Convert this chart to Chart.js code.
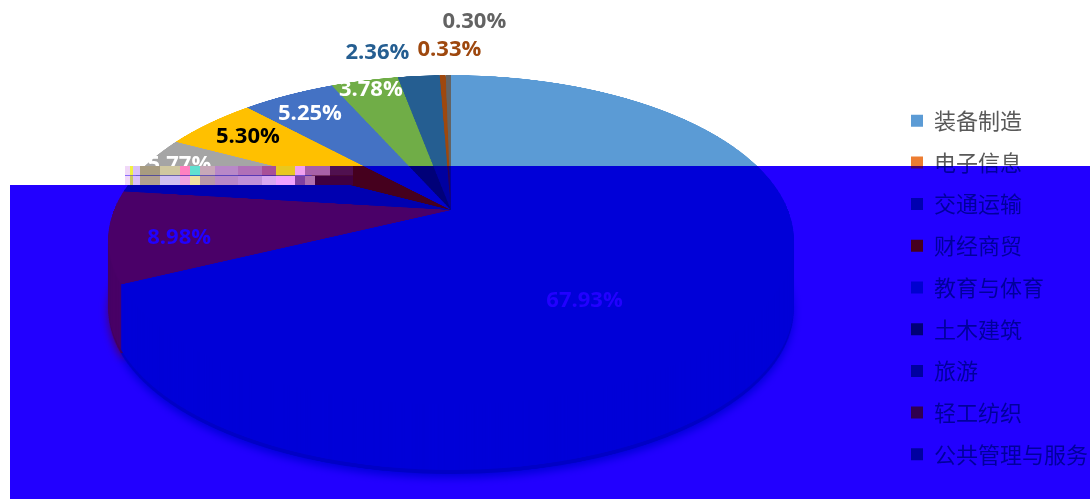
<!DOCTYPE html>
<html>
<head>
<meta charset="utf-8">
<title>专业分布</title>
<script src="https://cdn.jsdelivr.net/npm/chart.js@4"></script>
<style>
    html, body { margin: 0; padding: 0; background: #fff; overflow: hidden; }
    #stage { position: relative; width: 1090px; height: 499px; overflow: hidden; }
    canvas { position: absolute; left: 0; top: 0; }
    /* lower part of the picture is a damaged blue band, redrawn as a second layer */
    #damagedChart {
        background: #2200ff;
        clip-path: polygon(10px 185px, 125px 185px, 125px 166px, 1098px 166px, 1098px 499px, 10px 499px);
    }
    #noise {
        position: absolute; left: 125px; top: 166px; width: 228px; height: 19px;
        background-repeat: no-repeat;
        background-size: 100% 50%, 100% 50%;
        background-position: top, bottom;
        background-image:
            linear-gradient(90deg, #f0d8f8 0 5px, #f0f040 5px 8px, #d8c0f8 8px 15px, #a89c80 15px 35px, #d0c8a0 35px 55px,
                #ff80c0 55px 65px, #60e0d0 65px 75px, #c8a8b8 75px 90px, #b888c8 90px 113px, #b070b8 113px 137px,
                #a85098 137px 151px, #e8c820 151px 170px, #f0a0f0 170px 180px, #a860a8 180px 205px, #501050 205px 228px),
            linear-gradient(90deg, #f0d8f8 0 5px, #c8c860 5px 8px, #d8c0f8 8px 15px, #b0a090 15px 35px, #d0c0f0 35px 55px,
                #f0a0e0 55px 65px, #f0e0a0 65px 75px, #b898a8 75px 90px, #b888c8 90px 113px, #c090d8 113px 137px,
                #d8a8f0 137px 151px, #f0a0ff 151px 170px, #8040a0 170px 180px, #b070b0 180px 190px, #400040 190px 228px);
    }
</style>
</head>
<body>
<div id="stage">
    <canvas id="cleanChart" width="1098" height="499"></canvas>
    <canvas id="damagedChart" width="1098" height="499"></canvas>
    <div id="noise"></div>
</div>
<script>
const categories = ['装备制造', '电子信息', '交通运输', '财经商贸', '教育与体育', '土木建筑', '旅游', '轻工纺织', '公共管理与服务'];
const shares = [67.93, 8.98, 5.77, 5.30, 5.25, 3.78, 2.36, 0.33, 0.30];

const sliceColors = ['#5B9BD5', '#ED7D31', '#A5A5A5', '#FFC000', '#4472C4', '#70AD47', '#255E91', '#9E480E', '#636363'];
const labelColors = ['#ffffff', '#ffffff', '#ffffff', '#000000', '#ffffff', '#ffffff', '#255E91', '#9E480E', '#636363'];
// the same things as they come out under the blue band
const damagedSlices = ['#0000d8', '#4a0068', '#0000b0', '#45001e', '#0000d0', '#000078', '#0000a0', '#300050', '#0000a0'];
const damagedLabels = ['#2200ff', '#2200ff', '#2200ff', '#000000', '#2200ff', '#2200ff', '#0000a0', '#300050', '#0000a0'];

// where each label sits, relative to its slice: turn in degrees off the slice middle, reach in radii
const labelTurn = [23, -3, 2, 0, -1, 0, -6, 1.4, 3.9];
const labelReach = [0.63, 0.80, 0.90, 0.825, 0.823, 0.913, 1.228, 1.227, 1.503];

// perspective of the tilted pie
const centerX = 451, apexY = 210, spreadX = 337, spreadY = 159.5, tilt = 60 / 330, wallDepth = 73;

function project(u, v) {
    const w = 1 + tilt * v;
    return [centerX + spreadX * u / w, apexY - spreadY * v / w];
}

// draws the arcs flat on a big scratch canvas, then copies them row by row in perspective
function tiltedFace(arcs, width, height) {
    const S = 500;
    const flat = document.createElement('canvas');
    flat.width = flat.height = 2 * S;
    const fctx = flat.getContext('2d');
    const r = arcs[0].outerRadius, k = S / r;
    fctx.setTransform(k, 0, 0, k, S - k * arcs[0].x, S - k * arcs[0].y);
    arcs.forEach(a => a.draw(fctx));

    const face = document.createElement('canvas');
    face.width = width;
    face.height = height;
    const ctx = face.getContext('2d');
    const top = Math.floor(apexY - spreadY / (1 + tilt));
    const bottom = Math.ceil(apexY + spreadY / (1 - tilt));
    for (let y = top; y < bottom; y++) {
        const t0 = (apexY - y) / spreadY, t1 = (apexY - y - 1) / spreadY;
        const v0 = Math.min(1, t0 / (1 - tilt * t0)), v1 = Math.max(-1, t1 / (1 - tilt * t1));
        const half = spreadX / (1 + tilt * (v0 + v1) / 2);
        ctx.drawImage(flat, 0, S - S * v0, 2 * S, S * (v0 - v1), centerX - half, y, 2 * half, 1);
    }
    return face;
}

const tiltedPie = {
    id: 'tiltedPie',
    beforeDatasetsDraw(chart, args, opts) {
        const ctx = chart.ctx;
        const arcs = chart.getDatasetMeta(0).data;
        const face = tiltedFace(arcs, chart.width, chart.height);

        ctx.save();
        // soft outer edge, a slightly darker rim, then the wall in the face colours
        ctx.filter = 'blur(4px)';
        ctx.drawImage(face, 0, wallDepth);
        ctx.filter = 'brightness(0.92)';
        ctx.drawImage(face, 0, wallDepth - 4);
        ctx.filter = 'none';
        for (let d = wallDepth - 8; d > 0; d--) ctx.drawImage(face, 0, d);
        ctx.drawImage(face, 0, 0);

        ctx.font = '700 22px "Open Sans"';
        ctx.textAlign = 'center';
        ctx.textBaseline = 'middle';
        arcs.forEach((a, i) => {
            const mid = (a.startAngle + a.endAngle) / 2 + Math.PI / 2 + labelTurn[i] * Math.PI / 180;
            const p = project(labelReach[i] * Math.sin(mid), labelReach[i] * Math.cos(mid));
            ctx.fillStyle = opts.labelColors[i];
            ctx.fillText(shares[i].toFixed(2) + '%', p[0], p[1]);
        });
        ctx.restore();
        return false;
    }
};

function drawChart(id, colors, labels, legendText) {
    new Chart(document.getElementById(id).getContext('2d'), {
        type: 'pie',
        data: {
            labels: categories,
            datasets: [{ data: shares, backgroundColor: colors, borderWidth: 0 }]
        },
        plugins: [tiltedPie],
        options: {
            responsive: false,
            animation: false,
            layout: { padding: { top: 76 } },
            plugins: {
                tiltedPie: { labelColors: labels },
                tooltip: { enabled: false },
                legend: {
                    position: 'right',
                    labels: {
                        boxWidth: 12,
                        boxHeight: 12,
                        padding: 19.7,
                        color: legendText,
                        font: { family: '"Noto Sans CJK SC"', size: 22 }
                    }
                }
            }
        }
    });
}

drawChart('cleanChart', sliceColors, labelColors, '#595959');
drawChart('damagedChart', damagedSlices, damagedLabels, '#00009c');
</script>
</body>
</html>
